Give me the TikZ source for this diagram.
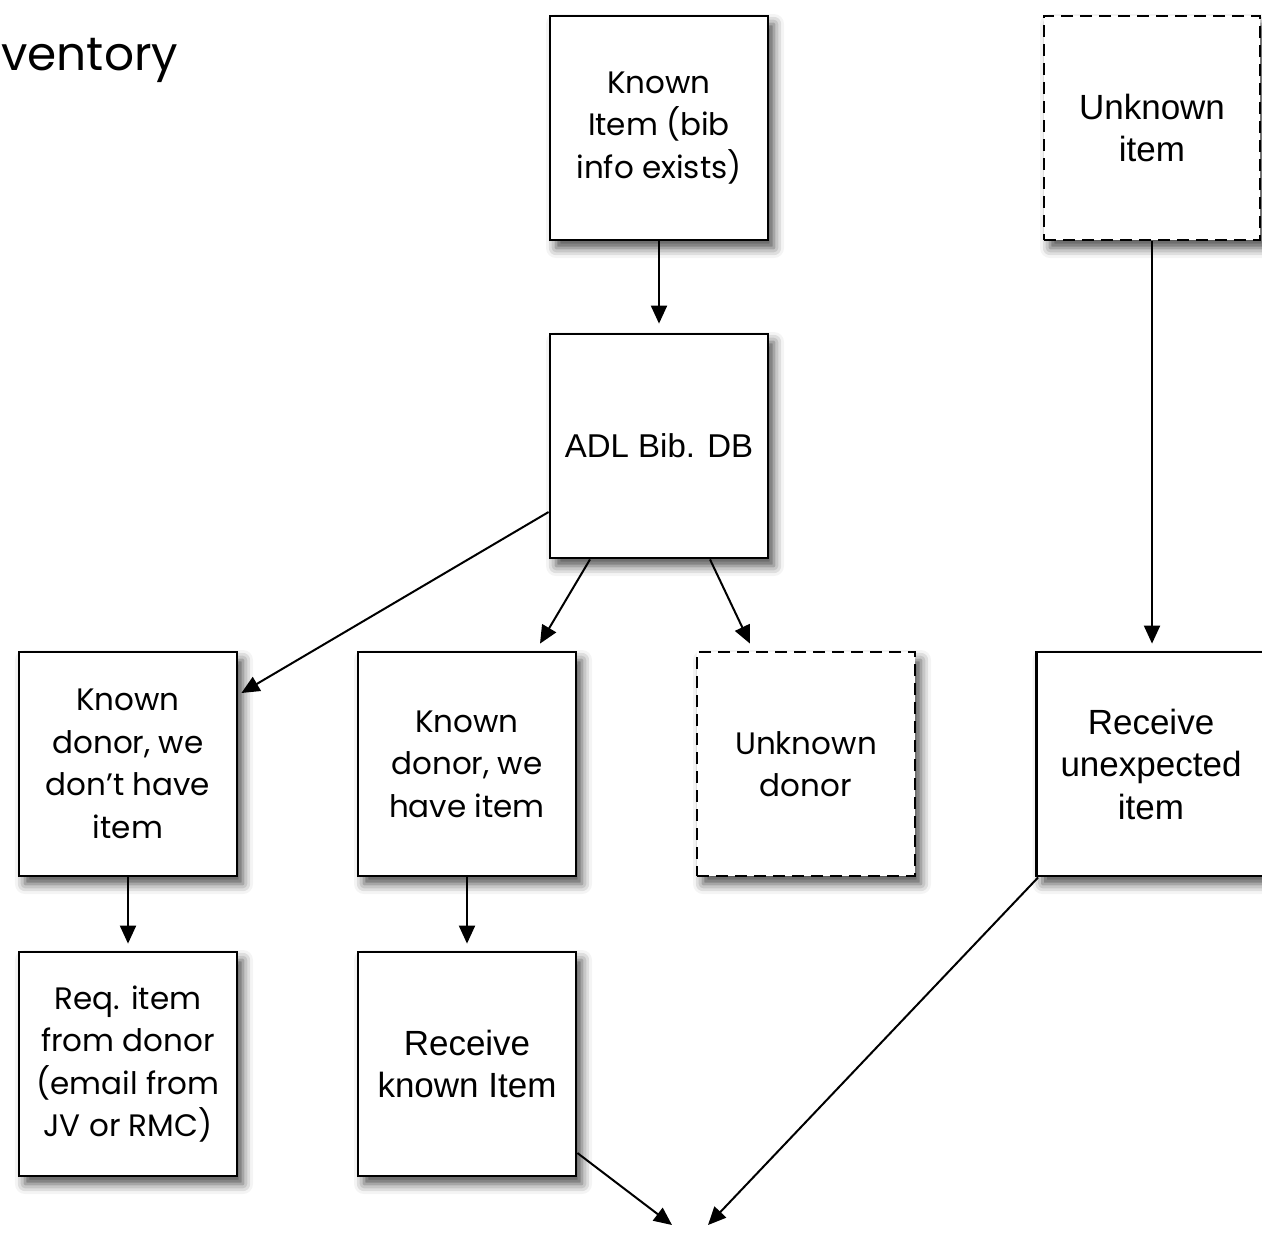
\documentclass[tikz,border=0pt]{standalone}
\usepackage{fontspec}
\setmainfont{Poppins}
\newfontfamily\hel{Liberation Sans}
\usetikzlibrary{arrows.meta,shadows.blur}
\tikzset{
  box/.style={draw=black, line width=1.4pt, fill=white, minimum width=109pt, minimum height=112pt,
    inner sep=0pt, align=center, font=\fontsize{15.5}{21.25}\selectfont,
    blur shadow={shadow xshift=3pt, shadow yshift=-4pt, shadow blur radius=5pt, shadow opacity=70}},
  dbox/.style={box, dash pattern=on 6pt off 3.5pt},
  hbox/.style={font=\hel\fontsize{17.5}{21.25}\selectfont},
  arr/.style={line width=1pt, -{Triangle[length=9pt,width=8pt]}}
}
\begin{document}
\begin{tikzpicture}[x=0.5pt,y=-0.5pt]
\useasboundingbox (0,0) rectangle (1262,1233);
\node[anchor=base west, font=\fontsize{23.5}{30}\selectfont, inner sep=0pt] (title) at (1,70) {ventory};

\node[box] (known) at (659,128) {Known\\Item (bib\\info exists)};
\node[dbox, hbox, minimum width=108pt] (unkitem) at (1152,128) {Unknown\\item};
\node[box, hbox, font=\hel\fontsize{16.5}{21.25}\selectfont] (adl) at (659,446) {ADL Bib. DB};
\node[box] (kd1) at (128,764) {Known\\donor, we\\don't have\\item};
\node[box] (kd2) at (467,764) {Known\\donor, we\\have item};
\node[dbox] (ud) at (806,764) {Unknown\\donor};
\node[box, hbox, minimum width=114.5pt] (recu) at (1151,764) {Receive\\unexpected\\item};
\node[box] (req) at (128,1064) {Req. item\\from donor\\(email from\\JV or RMC)};
\node[box, hbox] (reck) at (467,1064) {Receive\\known Item};

\coordinate (end1) at (672,1225);
\coordinate (end2) at (708,1225);

\draw[arr] (known.south) -- ([yshift=4.5pt]adl.north);
\draw[arr] (unkitem.south) -- ([yshift=3.5pt]unkitem.south |- recu.north);
\draw[arr] ([yshift=-33pt]adl.west) -- ([xshift=1.5pt,yshift=35.5pt]kd1.east);
\draw[arr] ([xshift=-34.5pt]adl.south) -- ([xshift=36.5pt,yshift=3.5pt]kd2.north);
\draw[arr] ([xshift=25.5pt]adl.south) -- ([xshift=-28pt,yshift=3.5pt]ud.north);
\draw[arr] (kd1.south) -- ([yshift=3.5pt]req.north);
\draw[arr] (kd2.south) -- ([yshift=3.5pt]reck.north);
\draw[arr] ([yshift=-44.5pt]reck.east) -- (end1);
\draw[arr] ([xshift=1.5pt]recu.south west) -- (end2);
\end{tikzpicture}
\end{document}
